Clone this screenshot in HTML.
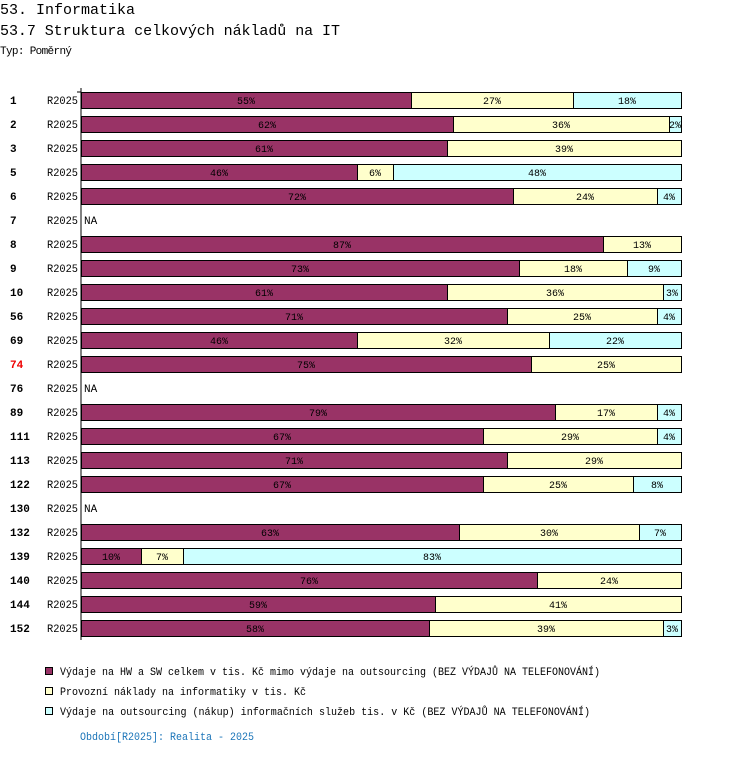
<!DOCTYPE html>
<html><head><meta charset="utf-8"><style>
body{margin:0;background:#fff;width:750px;height:754px;overflow:hidden}
svg text{font-family:"Liberation Mono",monospace}
</style></head><body>
<svg id="c" width="750" height="754" xmlns="http://www.w3.org/2000/svg">
<text x="0" y="14" font-size="15">53. Informatika</text>
<text x="0" y="35" font-size="15" textLength="340">53.7 Struktura celkových nákladů na IT</text>
<text x="0" y="54" font-size="11" textLength="72">Typ: Poměrný</text>
<g id="bars"></g>
<line x1="81" y1="88" x2="81" y2="640" stroke="#000"/>
<line x1="77" y1="92" x2="81" y2="92" stroke="#000"/>
<g font-size="11">
<g><rect x="45.5" y="667.5" width="7" height="7" fill="#993366" stroke="#000"/><text x="60" y="675" textLength="540" lengthAdjust="spacingAndGlyphs">Výdaje na HW a SW celkem v tis. Kč mimo výdaje na outsourcing (BEZ VÝDAJŮ NA TELEFONOVÁNÍ)</text></g>
<g><rect x="45.5" y="687.5" width="7" height="7" fill="#ffffcc" stroke="#000"/><text x="60" y="695" textLength="246" lengthAdjust="spacingAndGlyphs">Provozní náklady na informatiky v tis. Kč</text></g>
<g><rect x="45.5" y="707.5" width="7" height="7" fill="#ccffff" stroke="#000"/><text x="60" y="715" textLength="530" lengthAdjust="spacingAndGlyphs">Výdaje na outsourcing (nákup) informačních služeb tis. v Kč (BEZ VÝDAJŮ NA TELEFONOVÁNÍ)</text></g>
</g>
<text x="80" y="740" font-size="11" fill="#1a74b8" textLength="174" lengthAdjust="spacingAndGlyphs">Období[R2025]: Realita - 2025</text>
</svg>
<script>
const categories=["1","2","3","5","6","7","8","9","10","56","69","74","76","89","111","113","122","130","132","139","140","144","152"];
const hwsw=[55,62,61,46,72,null,87,73,61,71,46,75,null,79,67,71,67,null,63,10,76,59,58];
const provozni=[27,36,39,6,24,null,13,18,36,25,32,25,null,17,29,29,25,null,30,7,24,41,39];
const outsourcing=[18,2,0,48,4,null,0,9,3,4,22,0,null,4,4,0,8,null,7,83,0,0,3];
const highlight="74";
const X0=81,W=600,Y0=100,STEP=24,BH=16;
const xs=v=>X0+v/100*W, ys=i=>Y0+i*STEP;
const g=document.getElementById('bars');const NS="http://www.w3.org/2000/svg";
function mk(t,a){const e=document.createElementNS(NS,t);for(const k in a)e.setAttribute(k,a[k]);return e;}
const series=[[hwsw,"#993366"],[provozni,"#ffffcc"],[outsourcing,"#ccffff"]];
categories.forEach((c,i)=>{
 const y=ys(i);
 const l=mk('text',{x:10,y:y+4,'font-size':11,'font-weight':'bold',fill:c===highlight?'#e00':'#000'});l.textContent=c;
 
 g.appendChild(l);
 const p=mk('text',{x:47,y:y+4,'font-size':11,textLength:31,lengthAdjust:'spacingAndGlyphs'});p.textContent="R2025";
 
 g.appendChild(p);
 if(hwsw[i]===null){const n=mk('text',{x:84,y:y+4,'font-size':11});n.textContent="NA";
  
  g.appendChild(n);return;}
 let acc=0;
 series.forEach(([arr,col])=>{const v=arr[i];if(!v)return;
  const r=mk('rect',{x:xs(acc)+0.5,y:y-8+0.5,width:xs(acc+v)-xs(acc),height:BH,fill:col,stroke:'#000'});
  
  g.appendChild(r);
  const t=mk('text',{x:(xs(acc)+xs(acc+v))/2,y:y+4,'font-size':10,'text-anchor':'middle'});t.textContent=v+"%";
  
  g.appendChild(t);
  acc+=v;});
});
</script>
</body></html>
